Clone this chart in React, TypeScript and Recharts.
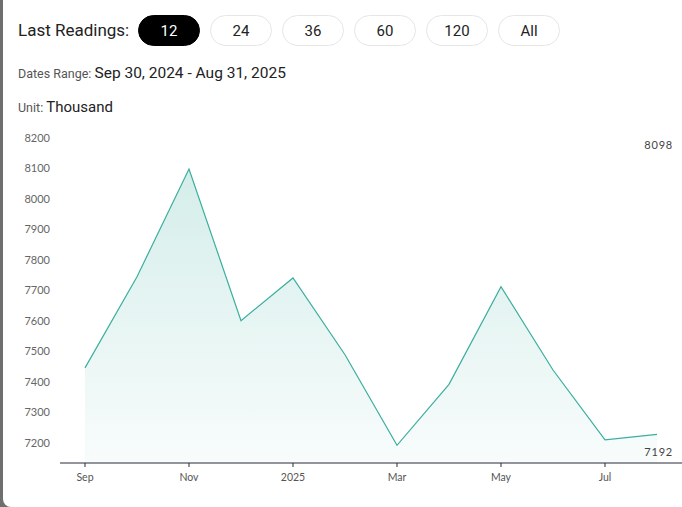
import { AreaChart, Area, XAxis, YAxis } from 'recharts';

const months = ['Sep', 'Oct', 'Nov', 'Dec', '2025', 'Feb', 'Mar', 'Apr', 'May', 'Jun', 'Jul', 'Aug'];
const readings = [7446, 7745, 8098, 7601, 7741, 7489, 7192, 7392, 7712, 7439, 7210, 7228];
const yTicks = [7200, 7300, 7400, 7500, 7600, 7700, 7800, 7900, 8000, 8100, 8200];
const rangeButtons = ['12', '24', '36', '60', '120', 'All'];

const data = months.map((m, i) => ({ month: m, value: readings[i] }));

const maxValue = Math.max(...readings);
const minValue = Math.min(...readings);

const headerFont = 'Roboto, "Noto Sans", sans-serif';

export default function App() {
  return (
    <div style={{ position: 'relative', width: 682, height: 507, background: '#6e6e6e', overflow: 'hidden' }}>
      <style>{`body{margin:0}`}</style>
      <div
        style={{
          position: 'absolute',
          left: 3,
          top: 0,
          width: 679,
          height: 507,
          background: '#fff',
          borderBottomLeftRadius: 8,
          fontFamily: headerFont,
        }}
      >
        <div style={{ position: 'absolute', left: 15, top: 20, fontSize: 17, color: '#222' }}>Last Readings:</div>
        {rangeButtons.map((b, i) => (
          <div
            key={b}
            style={{
              position: 'absolute',
              left: 135 + i * 72,
              top: 15,
              width: 62,
              height: 31,
              boxSizing: 'border-box',
              borderRadius: 16,
              border: i === 0 ? '1px solid #000' : '1px solid #e6e6e6',
              background: i === 0 ? '#000' : '#fff',
              color: i === 0 ? '#fff' : '#222',
              fontSize: 15,
              display: 'flex',
              alignItems: 'center',
              justifyContent: 'center',
            }}
          >
            {b}
          </div>
        ))}
        <div style={{ position: 'absolute', left: 15, top: 64, color: '#222', fontSize: 15.5 }}>
          <span style={{ fontSize: 12.5, color: '#555' }}>Dates Range: </span>Sep 30, 2024 - Aug 31, 2025
        </div>
        <div style={{ position: 'absolute', left: 15, top: 98, color: '#222', fontSize: 15 }}>
          <span style={{ fontSize: 12.5, color: '#555' }}>Unit: </span>Thousand
        </div>
      </div>
      <div style={{ position: 'absolute', left: 0, top: 120 }}>
        <AreaChart width={682} height={387} data={data} margin={{ top: 18, right: 0, bottom: 14, left: 0 }}>
          <defs>
            <linearGradient id="fillGrad" x1="0" y1="0" x2="0" y2="1">
              <stop offset="0%" stopColor="#3aae9f" stopOpacity={0.36} />
              <stop offset="100%" stopColor="#3aae9f" stopOpacity={0.06} />
            </linearGradient>
          </defs>
          <XAxis
            dataKey="month"
            interval={1}
            padding={{ left: 25, right: 25 }}
            tickSize={4}
            tickMargin={7}
            axisLine={{ stroke: '#2a2a3a' }}
            tickLine={{ stroke: '#2a2a3a' }}
            tick={{ fill: '#555', fontSize: 10.5, fontFamily: 'Lato, sans-serif' }}
          />
          <YAxis
            width={60}
            domain={[7134, 8200]}
            ticks={yTicks}
            allowDataOverflow
            axisLine={false}
            tickLine={false}
            tick={{ fill: '#666', fontSize: 11, fontFamily: 'Lato, sans-serif', dx: -2 }}
          />
          <Area
            type="linear"
            dataKey="value"
            stroke="#3aae9f"
            strokeWidth={1.2}
            fill="url(#fillGrad)"
            dot={false}
            activeDot={false}
            isAnimationActive={false}
          />
        </AreaChart>
      </div>
      <div style={{ position: 'absolute', right: 9, top: 138, fontSize: 11, color: '#444', fontFamily: 'Lato, sans-serif', letterSpacing: 0.8 }}>
        {maxValue}
      </div>
      <div style={{ position: 'absolute', right: 9, top: 445, fontSize: 11, color: '#444', fontFamily: 'Lato, sans-serif', letterSpacing: 0.8 }}>
        {minValue}
      </div>
    </div>
  );
}
